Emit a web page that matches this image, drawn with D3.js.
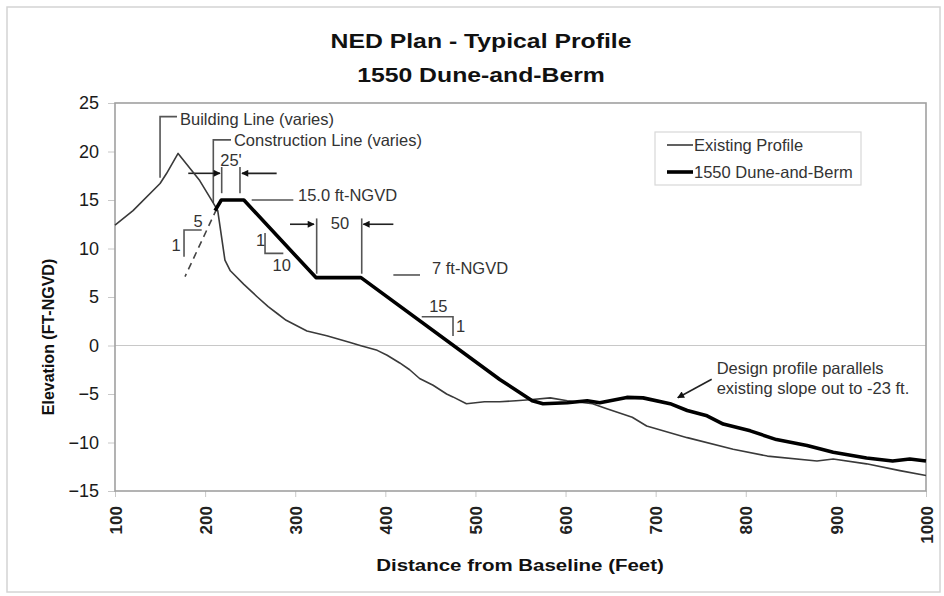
<!DOCTYPE html>
<html>
<head>
<meta charset="utf-8">
<script src="https://cdn.jsdelivr.net/npm/d3@7"></script>
<style>
  body { margin: 0; background: #fff; }
  text { font-family: Arial, "Liberation Sans", sans-serif; }
</style>
</head>
<body>
<svg id="chart" width="944" height="596"></svg>
<script>
// Existing ground profile (distance ft, elevation ft-NGVD)
const existingDist = [100, 120, 150, 157, 170, 194, 209, 214, 222, 228, 243, 258, 270, 280, 290, 313, 335, 361, 372, 391, 402, 416, 427, 438, 453, 468, 475, 490, 510, 527, 545, 560, 583, 602, 630, 645, 674, 690, 735, 786, 824, 879, 897, 934, 971, 1000];
const existingElev = [12.4, 13.9, 16.7, 17.7, 19.8, 17.0, 14.7, 13.9, 8.8, 7.7, 6.3, 5.0, 4.0, 3.3, 2.6, 1.5, 1.0, 0.3, 0.0, -0.5, -1.0, -1.8, -2.5, -3.4, -4.1, -5.0, -5.3, -6.0, -5.8, -5.8, -5.7, -5.6, -5.4, -5.7, -6.0, -6.5, -7.4, -8.3, -9.5, -10.7, -11.4, -11.9, -11.7, -12.2, -12.9, -13.4];

// 1550 dune-and-berm design profile
const designDist = [211, 218, 243, 323, 373, 527, 563, 575, 602, 624, 638, 668, 686, 716, 735, 757, 775, 805, 834, 868, 897, 934, 963, 982, 1000];
const designElev = [13.9, 15, 15, 7, 7, -3.5, -5.7, -6.0, -5.9, -5.7, -5.9, -5.35, -5.4, -6.0, -6.7, -7.25, -8.1, -8.8, -9.7, -10.3, -11.0, -11.6, -11.9, -11.7, -11.9];

// 1V:5H construction slope (dashed)
const dashDist = [212.9, 177.7];
const dashElev = [14.1, 7.1];

const xTicks = [100, 200, 300, 400, 500, 600, 700, 800, 900, 1000];
const yTicks = [25, 20, 15, 10, 5, 0, -5, -10, -15];

const seriesNames = ['Existing Profile', '1550 Dune-and-Berm'];

// annotation leader lines, in chart units [ft, elev]
const leaders = [
  [[150, 17.3], [150, 23.6], [168.8, 23.6]],          // building line
  [[209.1, 14.7], [209.1, 21.2], [228.7, 21.2]],      // construction line
  [[218.4, 18.4], [218.4, 15.7]],                     // 25' ticks
  [[238.7, 18.4], [238.7, 15.7]],
  [[251.7, 15.0], [297.9, 15.0]],                     // 15.0 ft-NGVD
  [[323.8, 13.1], [323.8, 7.4]],                      // 50 ticks
  [[373.8, 13.1], [373.8, 7.4]],
  [[408.9, 7.27], [438.5, 7.27]],                     // 7 ft-NGVD
  [[266.5, 11.6], [266.5, 9.5], [286.8, 9.5]],        // 1:10
  [[440.4, 2.97], [475.1, 2.97], [475.1, 0.98]],      // 15:1
  [[176.6, 9.15], [176.6, 11.9], [196.2, 11.9]],      // 1:5
];

const arrows = [
  [[181.3, 17.75], [216.5, 17.75]],
  [[279.4, 17.75], [240.9, 17.75]],
  [[294.2, 12.5], [320.8, 12.5]],
  [[408.9, 12.5], [375.6, 12.5]],
  [[762.2, -3.48], [724.5, -5.38]],
];

// labels: [text, ft, elev, anchor]
const labels = [
  ['Building Line (varies)', 172.1, 22.7, 'start'],
  ['Construction Line (varies)', 232, 20.6, 'start'],
  ["25'", 228.7, 18.55, 'middle'],
  ['15.0 ft-NGVD', 303.1, 14.9, 'start'],
  ['50', 349.7, 12.0, 'middle'],
  ['7 ft-NGVD', 451.8, 7.4, 'start'],
  ['1', 261.7, 10.3, 'middle'],
  ['10', 285, 7.7, 'middle'],
  ['15', 458.8, 3.45, 'middle'],
  ['1', 483.6, 1.4, 'middle'],
  ['5', 192.1, 12.25, 'middle'],
  ['1', 167.7, 9.7, 'middle'],
  ['Design profile parallels', 767.7, -2.92, 'start'],
  ['existing slope out to -23 ft.', 767.7, -4.98, 'start'],
];

const PLOT_LEFT = 115;
const PLOT_RIGHT = 926;
const PLOT_TOP = 103;
const PLOT_BOTTOM = 491;

const svg = d3.select('#chart');

const x = d3.scaleLinear().domain([100, 1000]).range([PLOT_LEFT, PLOT_RIGHT]);
const y = d3.scaleLinear().domain([-15, 25]).range([PLOT_BOTTOM, PLOT_TOP]);

svg.append('defs')
  .append('marker')
  .attr('id', 'arrowhead')
  .attr('viewBox', '0 0 10 10')
  .attr('refX', 9)
  .attr('refY', 5)
  .attr('markerWidth', 9)
  .attr('markerHeight', 7)
  .attr('markerUnits', 'userSpaceOnUse')
  .attr('orient', 'auto')
  .append('path')
  .attr('d', 'M0,0 L10,5 L0,10 z')
  .attr('fill', '#111');

// outer chart frame
svg.append('rect')
  .attr('x', 7).attr('y', 7)
  .attr('width', 933).attr('height', 585)
  .attr('fill', 'none')
  .attr('stroke', '#d4d4d4')
  .attr('stroke-width', 1.5);

// title (the source picture is stretched sideways, hence the scaleX)
svg.append('g')
  .attr('id', 'title')
  .selectAll('text')
  .data(['NED Plan - Typical Profile', '1550 Dune-and-Berm'])
  .join('text')
  .attr('transform', (_d, i) => `translate(481,${48 + i * 34}) scale(1.18,1)`)
  .attr('text-anchor', 'middle')
  .attr('style', 'font-size: 21px; font-weight: bold; fill: #111;')
  .text(d => d);

// zero line
svg.append('line')
  .attr('x1', PLOT_LEFT).attr('x2', PLOT_RIGHT)
  .attr('y1', y(0)).attr('y2', y(0))
  .attr('stroke', '#c8c8c8')
  .attr('stroke-width', 1.2);

// axes
const yAxis = svg.append('g')
  .attr('transform', `translate(${PLOT_LEFT},0)`)
  .call(d3.axisLeft(y).tickValues(yTicks).tickSize(7).tickPadding(9).tickFormat(d3.format('d')));
yAxis.select('.domain').remove();
yAxis.selectAll('line').attr('stroke', '#c8c8c8');
yAxis.selectAll('text')
  .attr('style', 'font-size: 18px; fill: #1a1a1a; font-family: Arial, "Liberation Sans", sans-serif;');

const xAxis = svg.append('g')
  .attr('transform', `translate(0,${PLOT_BOTTOM})`)
  .call(d3.axisBottom(x).tickValues(xTicks).tickSize(6).tickFormat(d3.format('d')));
xAxis.select('.domain').remove();
xAxis.selectAll('line').attr('stroke', '#c8c8c8');
xAxis.selectAll('text')
  .attr('transform', 'rotate(-90)')
  .attr('text-anchor', 'end')
  .attr('x', -15)
  .attr('y', 0)
  .attr('dy', '0.36em')
  .attr('style', 'font-size: 17px; font-weight: bold; fill: #222; font-family: Arial, "Liberation Sans", sans-serif;');

// plot border
svg.append('rect')
  .attr('x', PLOT_LEFT).attr('y', PLOT_TOP)
  .attr('width', PLOT_RIGHT - PLOT_LEFT)
  .attr('height', PLOT_BOTTOM - PLOT_TOP)
  .attr('fill', 'none')
  .attr('stroke', '#a0a0a0')
  .attr('stroke-width', 1.6);

// axis titles
svg.append('text')
  .attr('transform', 'translate(54,337) rotate(-90)')
  .attr('text-anchor', 'middle')
  .attr('style', 'font-size: 16px; font-weight: bold; fill: #111;')
  .text('Elevation (FT-NGVD)');

svg.append('text')
  .attr('transform', 'translate(520,571) scale(1.28,1)')
  .attr('text-anchor', 'middle')
  .attr('style', 'font-size: 16px; font-weight: bold; fill: #111;')
  .text('Distance from Baseline (Feet)');

const line = d3.line().x(d => x(d[0])).y(d => y(d[1]));

// annotation lines
svg.append('g')
  .attr('id', 'leaders')
  .selectAll('path')
  .data(leaders)
  .join('path')
  .attr('d', line)
  .attr('fill', 'none')
  .attr('stroke', '#555')
  .attr('stroke-width', 1.6);

svg.append('g')
  .attr('id', 'arrows')
  .selectAll('path')
  .data(arrows)
  .join('path')
  .attr('d', line)
  .attr('fill', 'none')
  .attr('stroke', '#222')
  .attr('stroke-width', 1.6)
  .attr('marker-end', 'url(#arrowhead)');

svg.append('path')
  .attr('d', line(d3.zip(dashDist, dashElev)))
  .attr('fill', 'none')
  .attr('stroke', '#444')
  .attr('stroke-width', 1.6)
  .attr('stroke-dasharray', '7,5');

// profiles
svg.append('path')
  .attr('d', line(d3.zip(existingDist, existingElev)))
  .attr('fill', 'none')
  .attr('stroke', '#3a3a3a')
  .attr('stroke-width', 1.6)
  .attr('stroke-linejoin', 'round');

svg.append('path')
  .attr('d', line(d3.zip(designDist, designElev)))
  .attr('fill', 'none')
  .attr('stroke', '#000')
  .attr('stroke-width', 3.6)
  .attr('stroke-linejoin', 'round');

svg.append('g')
  .attr('id', 'labels')
  .selectAll('text')
  .data(labels)
  .join('text')
  .attr('x', d => x(d[1]))
  .attr('y', d => y(d[2]))
  .attr('text-anchor', d => d[3])
  .attr('style', 'font-size: 16.5px; fill: #333;')
  .text(d => d[0]);

// legend
const legend = svg.append('g').attr('transform', 'translate(655,132)');
legend.append('rect')
  .attr('width', 206).attr('height', 53)
  .attr('fill', '#fff')
  .attr('stroke', '#d8d8d8')
  .attr('stroke-width', 1.2);
legend.selectAll('g')
  .data(seriesNames)
  .join('g')
  .attr('transform', (_d, i) => `translate(0,${13 + i * 27})`)
  .call((g) => g.append('line')
    .attr('x1', 12).attr('x2', 38)
    .attr('stroke', (_d, i) => i ? '#000' : '#3a3a3a')
    .attr('stroke-width', (_d, i) => i ? 3.6 : 1.6)
  )
  .call((g) => g.append('text')
    .attr('x', 39)
    .attr('dy', '0.35em')
    .attr('style', 'font-size: 16.5px; fill: #333;')
    .text(d => d)
  );
</script>
</body>
</html>
